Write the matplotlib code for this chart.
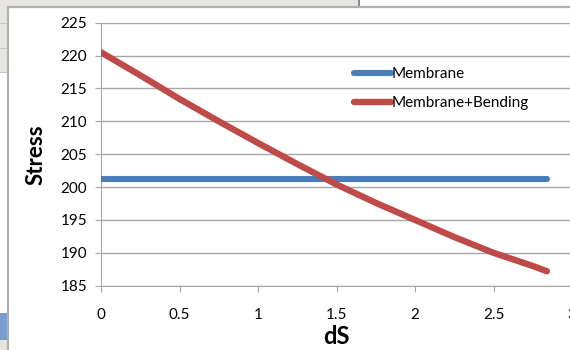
import matplotlib.pyplot as plt
import matplotlib.patches as patches

# stress vs dS
ds = [0, 0.25, 0.5, 0.75, 1.0, 1.25, 1.5, 1.75, 2.0, 2.25, 2.5, 2.75, 2.84]
membrane = [201.3] * len(ds)
membrane_bending = [220.5, 217.0, 213.4, 210.0, 206.7, 203.5, 200.4,
                    197.6, 195.0, 192.4, 190.0, 188.0, 187.2]

x_ticks = [0, 0.5, 1, 1.5, 2, 2.5, 3]
x_labels = ['0', '0.5', '1', '1.5', '2', '2.5', '3']
y_ticks = list(range(185, 226, 5))

plt.rcParams['font.family'] = ['Lato', 'DejaVu Sans']

W, H = 570, 350
fig = plt.figure(figsize=(W / 100, H / 100), dpi=100)
fig.patch.set_facecolor('#E6E5E1')


def px_rect(x0, y0, x1, y1, **kw):
    # rectangle in pixel coords, origin at top-left
    r = patches.Rectangle((x0 / W, 1 - y1 / H), (x1 - x0) / W, (y1 - y0) / H,
                          transform=fig.transFigure, **kw)
    fig.patches.append(r)
    return r


# sheet cells around the chart
px_rect(360, 0, 570, 8, facecolor='white', edgecolor='none', zorder=0)
px_rect(358, 0, 360, 8, facecolor='#8C8C8C', edgecolor='none', zorder=0)
px_rect(0, 73, 8, 313, facecolor='white', edgecolor='none', zorder=0)
px_rect(0, 313, 8, 340, facecolor='#7A9CCF', edgecolor='none', zorder=0)
for yy in (23, 48, 72):
    px_rect(0, yy, 8, yy + 1, facecolor='#C8C8C8', edgecolor='none', zorder=0)

# chart area
px_rect(8, 7, 575, 355, facecolor='white', edgecolor='#B0B0B0', linewidth=1.6, zorder=1)

ax = fig.add_axes([101 / W, 64.3 / H, 471 / W, 263 / H])
ax.set_zorder(2)
ax.patch.set_alpha(0)

ax.plot(ds, membrane, color='#4A7EBB', linewidth=4.4, solid_capstyle='round', label='Membrane', zorder=3)
ax.plot(ds, membrane_bending, color='#BE4B48', linewidth=4.6, solid_capstyle='round',
        label='Membrane+Bending', zorder=3)

ax.set_xlim(0, 3)
ax.set_ylim(185, 225)
ax.set_xticks(x_ticks)
ax.set_xticklabels(x_labels)
ax.set_yticks(y_ticks)

ax.spines['top'].set_visible(False)
ax.spines['right'].set_visible(False)
ax.spines['left'].set_color('#A6A6A6')
ax.spines['bottom'].set_color('#A6A6A6')
ax.tick_params(axis='both', colors='#A6A6A6', labelcolor='black', labelsize=11, length=4, direction='out')
ax.tick_params(axis='x', pad=12)
ax.tick_params(axis='y', pad=6)
ax.yaxis.grid(True, color='#A6A6A6', linewidth=1)
ax.set_axisbelow(True)

ax.set_xlabel('dS', fontsize=17, fontweight='bold', labelpad=2)
ax.set_ylabel('Stress', fontsize=16, fontweight='bold', labelpad=10)

leg = ax.legend(loc='upper left', bbox_to_anchor=(0.525, 0.855), frameon=False, fontsize=11,
                handlelength=2.4, handletextpad=0.05, labelspacing=1.0, borderaxespad=0)

fig.savefig('out.png', dpi=100, facecolor=fig.get_facecolor())
